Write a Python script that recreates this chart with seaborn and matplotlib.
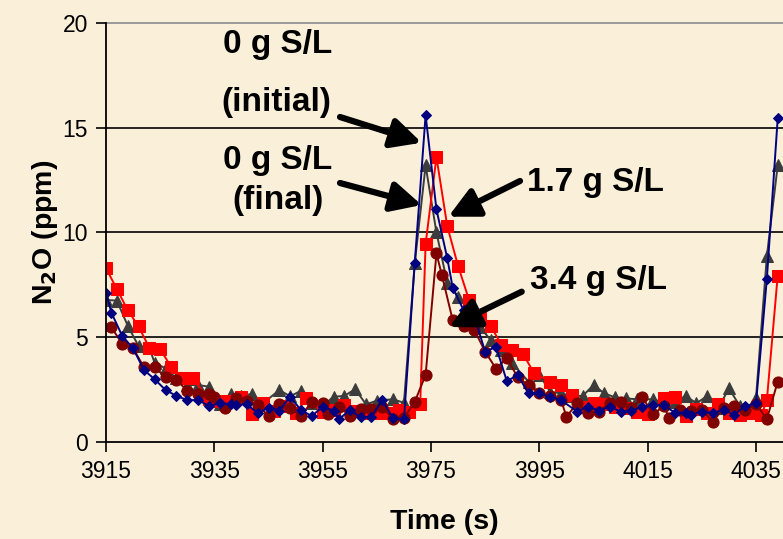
import numpy as np
import pandas as pd
import matplotlib
matplotlib.use("Agg")
import matplotlib.pyplot as plt
import seaborn as sns

# N2O concentration (ppm) versus time (s) for the four sulfur loadings
t_initial = [3915, 3916, 3918, 3920, 3922, 3924, 3926, 3928, 3930, 3932, 3934, 3936, 3938,
             3939, 3941, 3943, 3945, 3947, 3949, 3951, 3953, 3955, 3957, 3958, 3960, 3962,
             3964, 3966, 3968, 3970, 3972, 3974, 3976, 3978, 3979, 3981, 3983, 3985, 3987,
             3989, 3991, 3993, 3995, 3997, 3999, 4002, 4004, 4006, 4008, 4010, 4012, 4014,
             4016, 4018, 4020, 4022, 4023, 4025, 4027, 4029, 4031, 4033, 4035, 4037, 4039]
n2o_initial = [7.13, 6.17, 5.06, 4.47, 3.44, 2.99, 2.48, 2.20, 2.00, 2.00, 1.72, 1.85, 1.80,
               1.77, 1.81, 1.37, 1.64, 1.50, 2.16, 1.52, 1.24, 1.69, 1.50, 1.08, 1.53, 1.18,
               1.21, 2.00, 1.13, 1.08, 8.56, 15.60, 11.10, 8.77, 7.37, 6.30, 6.00, 4.30, 4.55,
               2.90, 3.20, 2.32, 2.32, 2.16, 2.00, 1.45, 1.69, 1.49, 1.69, 1.45, 1.49, 1.69,
               1.77, 1.75, 1.40, 1.40, 1.29, 1.45, 1.40, 1.53, 1.30, 1.72, 1.85, 7.80, 15.45]

t_final = [3915, 3917, 3919, 3921, 3923, 3924, 3926, 3928, 3930, 3932, 3934, 3936, 3938,
           3940, 3942, 3944, 3947, 3949, 3951, 3953, 3955, 3957, 3959, 3961, 3963, 3965,
           3968, 3970, 3972, 3974, 3976, 3978, 3980, 3982, 3984, 3986, 3988, 3990, 3993,
           3995, 3997, 3999, 4001, 4003, 4005, 4007, 4009, 4011, 4013, 4016, 4018, 4020,
           4022, 4024, 4026, 4028, 4030, 4032, 4034, 4035, 4037, 4039]
n2o_final = [6.78, 6.75, 5.56, 4.58, 4.50, 3.76, 3.52, 3.04, 2.72, 2.72, 2.64, 1.80, 2.30,
             2.20, 2.30, 1.85, 2.48, 2.18, 2.45, 1.85, 1.72, 2.16, 2.20, 2.52, 1.80, 1.97,
             2.04, 1.87, 8.53, 13.20, 10.00, 7.60, 6.94, 6.30, 5.50, 4.87, 4.40, 3.76, 2.88,
             3.20, 2.40, 2.32, 2.20, 2.20, 2.72, 2.32, 2.13, 2.08, 2.04, 2.04, 1.88, 1.92,
             2.20, 1.85, 2.20, 1.60, 2.56, 1.72, 1.56, 2.12, 8.88, 13.20]

t_17 = [3915, 3917, 3919, 3921, 3923, 3925, 3927, 3929, 3931, 3934, 3936, 3938, 3940,
        3942, 3944, 3946, 3948, 3950, 3952, 3955, 3957, 3959, 3961, 3963, 3965, 3967,
        3969, 3971, 3973, 3974, 3976, 3978, 3980, 3982, 3984, 3986, 3988, 3990, 3992,
        3994, 3997, 3999, 4001, 4003, 4005, 4007, 4009, 4011, 4013, 4015, 4018, 4020,
        4022, 4024, 4026, 4028, 4030, 4032, 4034, 4036, 4037, 4039]
n2o_17 = [8.30, 7.30, 6.30, 5.52, 4.50, 4.43, 3.60, 3.05, 3.04, 2.04, 1.97, 1.97, 2.16,
          1.34, 1.85, 1.48, 1.72, 1.37, 2.08, 1.45, 1.53, 1.77, 1.49, 1.40, 1.40, 1.40,
          1.53, 1.45, 1.80, 9.45, 13.60, 10.30, 8.40, 6.80, 6.06, 5.54, 4.65, 4.39, 4.20,
          3.30, 2.88, 2.72, 2.24, 1.69, 1.88, 1.81, 1.69, 1.60, 1.45, 1.34, 2.08, 2.16,
          1.24, 1.56, 1.40, 1.81, 1.37, 1.29, 1.37, 1.29, 2.00, 7.94]

t_34 = [3916, 3918, 3920, 3922, 3924, 3926, 3928, 3930, 3932, 3934, 3935, 3937, 3939,
        3941, 3943, 3945, 3947, 3949, 3951, 3953, 3955, 3956, 3958, 3960, 3962, 3964,
        3966, 3968, 3970, 3972, 3974, 3976, 3977, 3979, 3981, 3983, 3985, 3987, 3989,
        3991, 3993, 3995, 3997, 3999, 4000, 4002, 4004, 4006, 4008, 4010, 4012, 4014,
        4016, 4018, 4019, 4021, 4023, 4025, 4027, 4029, 4031, 4033, 4035, 4037, 4039]
n2o_34 = [5.47, 4.68, 4.47, 3.57, 3.57, 3.09, 2.96, 2.45, 2.29, 2.29, 2.16, 1.60, 2.08,
          1.96, 1.77, 1.24, 1.80, 1.60, 1.24, 1.92, 1.88, 1.34, 1.69, 1.24, 1.58, 1.56,
          1.69, 1.08, 1.16, 1.92, 3.20, 9.00, 7.97, 5.82, 5.54, 5.35, 4.31, 3.50, 4.00,
          3.09, 2.70, 2.32, 2.20, 2.00, 1.21, 1.85, 1.37, 1.45, 1.88, 1.92, 1.60, 2.13,
          1.34, 1.70, 1.13, 1.53, 1.50, 1.55, 0.97, 1.60, 1.72, 1.55, 1.80, 1.10, 2.88]

x_ticks = [3915, 3935, 3955, 3975, 3995, 4015, 4035]
y_ticks = [0, 5, 10, 15, 20]

BG = "#FAF0DA"
W, H = 783, 539

sns.set_theme(style="white")
plt.rcParams["font.family"] = ["Liberation Sans", "DejaVu Sans"]
plt.rcParams["text.color"] = "black"
plt.rcParams["axes.labelcolor"] = "black"

fig = plt.figure(figsize=(W / 100, H / 100), dpi=100, facecolor=BG)
ax = fig.add_axes([106 / W, 1 - 442 / H, (W - 106) / W, (442 - 23) / H])
ax.set_facecolor(BG)

series = [
    (t_final, n2o_final, "#3C3C3C", "^", 9.0),
    (t_17, n2o_17, "#FF0000", "s", 8.0),
    (t_34, n2o_34, "#800000", "o", 8.0),
    (t_initial, n2o_initial, "#000080", "D", 5.5),
]
for t, v, col, mk, ms in series:
    df = pd.DataFrame({"t": t, "n2o": v})
    sns.lineplot(data=df, x="t", y="n2o", ax=ax, color=col, marker=mk,
                 markersize=ms, markeredgecolor=col, markerfacecolor=col,
                 linewidth=1.4, estimator=None, sort=False)

ax.set_xlim(3915, 3915 + (W - 106) / 5.417)
ax.set_ylim(0, 20)
ax.set_xticks(x_ticks)
ax.set_yticks(y_ticks)
ax.tick_params(axis="both", labelsize=16.5, colors="black", length=7, width=1.2,
               direction="out", pad=6)
ax.tick_params(axis="x", bottom=True)
ax.tick_params(axis="y", left=True)
for y in y_ticks[1:-1]:
    ax.axhline(y, color="black", lw=1.2, zorder=0)
ax.axhline(20, color="#8C8C8C", lw=1.2, zorder=0, clip_on=False)
for side in ["top", "right"]:
    ax.spines[side].set_visible(False)
for side in ["left", "bottom"]:
    ax.spines[side].set_color("black")
    ax.spines[side].set_linewidth(1.3)

ax.set_xlabel("Time (s)", fontsize=20.5, fontweight="bold", labelpad=19)
ax.set_ylabel("N$_\\mathbf{2}$O (ppm)", fontsize=20.5, fontweight="bold", labelpad=2)

# Callout labels with arrows, positioned in figure pixels
def fp(px, py):
    return (px, H - py)

lab_kw = dict(fontsize=24, fontweight="bold", ha="center", va="center",
              xycoords="figure pixels", color="black")
for txt, px, py in [("0 g S/L", 278, 45), ("(initial)", 276, 103),
                    ("0 g S/L", 278, 160), ("(final)", 278, 200),
                    ("1.7 g S/L", 595, 182), ("3.4 g S/L", 598, 281)]:
    ax.annotate(txt, xy=fp(px, py), **lab_kw)

arrow_kw = dict(arrowstyle="-|>,head_length=0.9,head_width=0.45", color="black",
                lw=4.5, shrinkA=0, shrinkB=0, mutation_scale=20)
for (x0, y0), (x1, y1) in [((340, 117), (421.7, 142.7)),
                           ((340, 183), (421.7, 205)),
                           ((520, 181), (448.3, 216.7)),
                           ((521.7, 291.7), (449, 327))]:
    ax.annotate("", xy=fp(x1, y1), xytext=fp(x0, y0), xycoords="figure pixels",
                textcoords="figure pixels", arrowprops=arrow_kw)

fig.savefig("out.png", dpi=100, facecolor=BG)
